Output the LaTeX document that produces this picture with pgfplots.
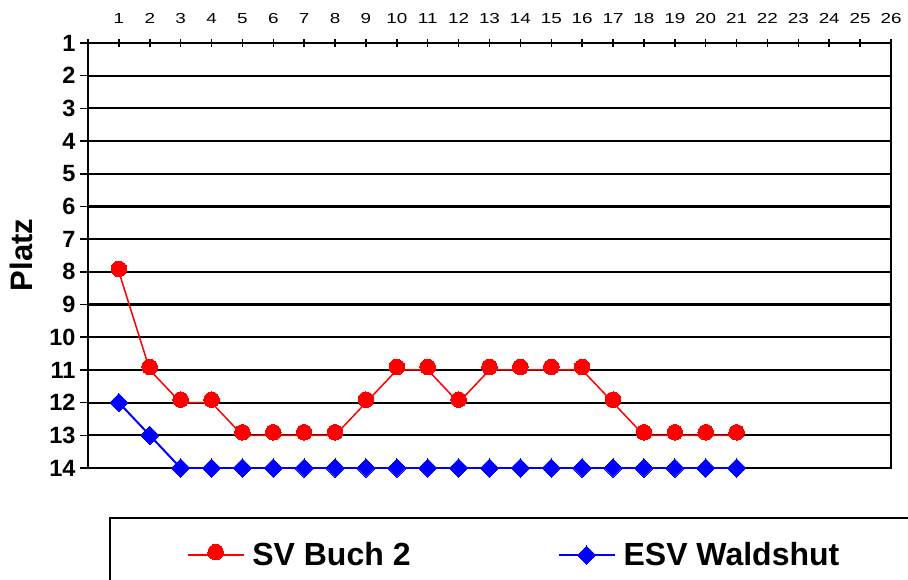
\documentclass[border=0pt]{standalone}
\usepackage{pgfplots}
\pgfplotsset{compat=1.18}
\usepackage{fontspec}
\setmainfont{Liberation Sans}
\newfontfamily\widefont[FakeStretch=1.3]{Liberation Sans}
\definecolor{pred}{RGB}{255,0,0}
\definecolor{pblue}{RGB}{0,0,255}
\pgfplotsset{legend image code/.code={\draw[mark repeat=2,mark phase=2,#1] plot coordinates {(0pt,0pt) (28pt,0pt) (56pt,0pt)};}}
\begin{document}
\begin{tikzpicture}[x=1pt,y=1pt]
\clip (0,0) rectangle (908,579);
\begin{axis}[
  at={(88pt,111pt)}, anchor=south west,
  scale only axis, width=803pt, height=425pt,
  xmin=0, xmax=26, ymin=1, ymax=14, y dir=reverse,
  xtick={0,1,...,26},
  xticklabels={{},1,2,3,4,5,6,7,8,9,10,11,12,13,14,15,16,17,18,19,20,21,22,23,24,25,26},
  ytick={1,2,...,14},
  xtick pos=right, xticklabel pos=right, ytick pos=left,
  ytick align=outside, xtick align=center, major tick length=8pt,
  ymajorgrids, grid style={black, line width=2.2pt},
  axis line style={black, line width=2.4pt},
  tick style={black, line width=1.5pt},
  /pgf/number format/assume math mode=true,
  yticklabel style={font=\bfseries\fontsize{23.5}{25}\selectfont, xshift=-1pt},
  xticklabel style={font=\widefont\fontsize{14.5}{16}\selectfont, yshift=12pt},
  ylabel={Platz},
  ylabel style={font=\bfseries\fontsize{31}{34}\selectfont, at={(axis description cs:-0.0834,0.501)}, anchor=center},
  legend columns=2,
  legend cell align=left,
  legend style={at={(axis description cs:0.0262,-0.1153)}, anchor=north west,
    draw=black, line width=1.6pt, inner xsep=77pt, inner ysep=25pt,
    font=\bfseries\fontsize{32}{38}\selectfont,
    nodes={inner sep=0pt},
    /tikz/every odd column/.append style={column sep=8pt},
    /tikz/every even column/.append style={column sep=147pt}},
]
\addplot[pred, line width=1.5pt, mark=*, mark size=7.8pt, mark options={yshift=3pt, fill=pred, draw=pred, line width=0pt}]
  coordinates {(1,8) (2,11) (3,12) (4,12) (5,13) (6,13) (7,13) (8,13) (9,12) (10,11) (11,11) (12,12) (13,11) (14,11) (15,11) (16,11) (17,12) (18,13) (19,13) (20,13) (21,13)};
\addlegendentry{SV Buch 2}
\addplot[pblue, line width=2pt, mark=square*, mark size=6.5pt, mark options={rotate=45, fill=pblue, draw=pblue, line width=0pt}]
  coordinates {(1,12) (2,13) (3,14) (4,14) (5,14) (6,14) (7,14) (8,14) (9,14) (10,14) (11,14) (12,14) (13,14) (14,14) (15,14) (16,14) (17,14) (18,14) (19,14) (20,14) (21,14)};
\addlegendentry{ESV Waldshut}
\end{axis}
\end{tikzpicture}
\end{document}
